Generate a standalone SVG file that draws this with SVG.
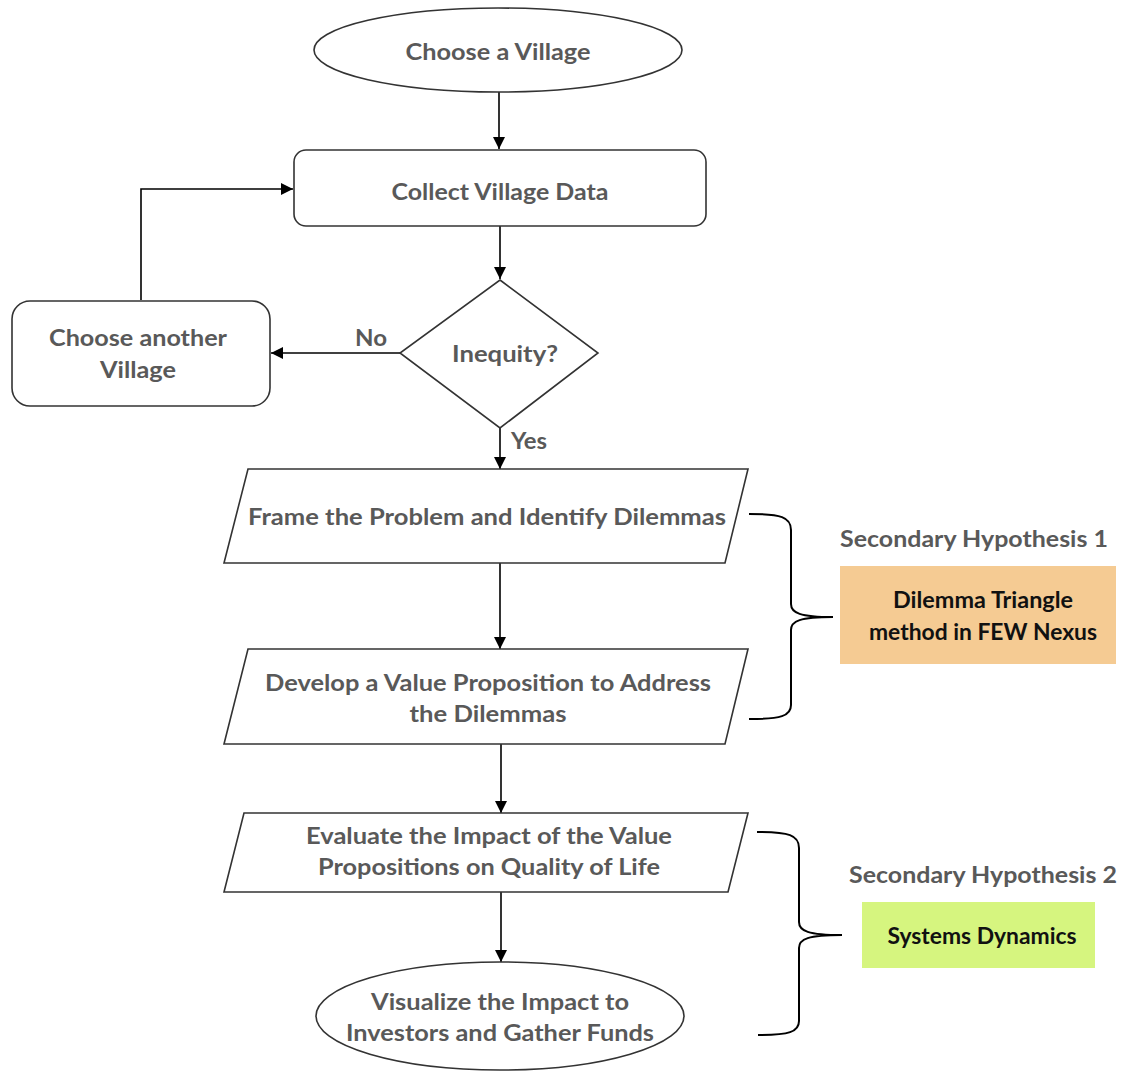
<svg xmlns="http://www.w3.org/2000/svg" width="1128" height="1071" viewBox="0 0 1128 1071">
  <style>
    .shape { fill: #ffffff; stroke: #333333; stroke-width: 1.6; }
    .lbl { font-family: Lato, "Open Sans", "Liberation Sans", sans-serif; font-weight: bold; font-size: 22px; fill: #595959; text-anchor: middle; }
    .dark { fill: #111111; }
    .conn { fill: none; stroke: #000000; stroke-width: 1.6; }
    .brace { fill: none; stroke: #000000; stroke-width: 2; }
  </style>
  <defs>
    <marker id="arrow" markerUnits="userSpaceOnUse" markerWidth="12" markerHeight="12" viewBox="0 0 12 12" refX="12" refY="6" orient="auto">
      <path d="M0,0 L12,6 L0,12 Z" fill="#000000"/>
    </marker>
  </defs>

  <rect width="1128" height="1071" fill="#ffffff"/>

  <!-- connectors -->
  <g id="connectors">
    <line class="conn" x1="499" y1="92" x2="499" y2="149" marker-end="url(#arrow)"/>
    <line class="conn" x1="500" y1="226" x2="500" y2="279" marker-end="url(#arrow)"/>
    <line class="conn" x1="400" y1="353" x2="271" y2="353" marker-end="url(#arrow)"/>
    <polyline class="conn" points="141,300 141,189 293,189" marker-end="url(#arrow)"/>
    <line class="conn" x1="500" y1="428" x2="500" y2="469" marker-end="url(#arrow)"/>
    <line class="conn" x1="500" y1="563" x2="500" y2="649" marker-end="url(#arrow)"/>
    <line class="conn" x1="501" y1="744" x2="501" y2="813" marker-end="url(#arrow)"/>
    <line class="conn" x1="501" y1="892" x2="501" y2="962" marker-end="url(#arrow)"/>
    <text class="lbl" x="371" y="346" textLength="32" lengthAdjust="spacingAndGlyphs">No</text>
    <text class="lbl" x="529" y="449" textLength="36" lengthAdjust="spacingAndGlyphs">Yes</text>
  </g>

  <g id="start">
    <ellipse class="shape" cx="498" cy="50" rx="184" ry="42"/>
    <text class="lbl" x="498" y="60" textLength="185" lengthAdjust="spacingAndGlyphs">Choose a Village</text>
  </g>

  <g id="collect">
    <rect class="shape" x="294" y="150" width="412" height="76" rx="12"/>
    <text class="lbl" x="500" y="200" textLength="217" lengthAdjust="spacingAndGlyphs">Collect Village Data</text>
  </g>

  <g id="inequity">
    <polygon class="shape" points="500,280 598,353 500,428 400,353"/>
    <text class="lbl" x="505" y="362" textLength="106" lengthAdjust="spacingAndGlyphs">Inequity?</text>
  </g>

  <g id="another">
    <rect class="shape" x="12" y="301" width="258" height="105" rx="18"/>
    <text class="lbl" x="138" y="346" textLength="178" lengthAdjust="spacingAndGlyphs">Choose another</text>
    <text class="lbl" x="138" y="378" textLength="76" lengthAdjust="spacingAndGlyphs">Village</text>
  </g>

  <g id="frame">
    <polygon class="shape" points="248,469 748,469 725,563 224,563"/>
    <text class="lbl" x="487" y="525" textLength="478" lengthAdjust="spacingAndGlyphs">Frame the Problem and Identify Dilemmas</text>
  </g>

  <g id="develop">
    <polygon class="shape" points="248,649 748,649 725,744 224,744"/>
    <text class="lbl" x="488" y="691" textLength="446" lengthAdjust="spacingAndGlyphs">Develop a Value Proposition to Address</text>
    <text class="lbl" x="488" y="722" textLength="157" lengthAdjust="spacingAndGlyphs">the Dilemmas</text>
  </g>

  <g id="evaluate">
    <polygon class="shape" points="244,813 748,813 728,892 224,892"/>
    <text class="lbl" x="489" y="844" textLength="366" lengthAdjust="spacingAndGlyphs">Evaluate the Impact of the Value</text>
    <text class="lbl" x="489" y="875" textLength="342" lengthAdjust="spacingAndGlyphs">Propositions on Quality of Life</text>
  </g>

  <g id="visualize">
    <ellipse class="shape" cx="500" cy="1016" rx="184" ry="54"/>
    <text class="lbl" x="500" y="1010" textLength="258" lengthAdjust="spacingAndGlyphs">Visualize the Impact to</text>
    <text class="lbl" x="500" y="1041" textLength="308" lengthAdjust="spacingAndGlyphs">Investors and Gather Funds</text>
  </g>

  <!-- hypothesis brackets -->
  <g id="hypothesis1">
    <path class="brace" d="M749,514 C781,514 791,517 791,530 L791,604 C791,613 800,617 833,617 C800,617 791,621 791,630 L791,705 C791,716 781,719 749,719"/>
    <text class="lbl" x="974" y="547" textLength="268" lengthAdjust="spacingAndGlyphs">Secondary Hypothesis 1</text>
    <rect x="840" y="566" width="276" height="98" fill="#F5CB93"/>
    <text class="lbl dark" x="983" y="608" textLength="180" lengthAdjust="spacingAndGlyphs">Dilemma Triangle</text>
    <text class="lbl dark" x="983" y="640" textLength="228" lengthAdjust="spacingAndGlyphs">method in FEW Nexus</text>
  </g>

  <g id="hypothesis2">
    <path class="brace" d="M757,832 C789,832 799,835 799,848 L799,922 C799,931 808,935 842,935 C808,935 799,939 799,948 L799,1021 C799,1032 789,1035 758,1035"/>
    <text class="lbl" x="983" y="883" textLength="268" lengthAdjust="spacingAndGlyphs">Secondary Hypothesis 2</text>
    <rect x="862" y="902" width="233" height="66" fill="#D6F57F"/>
    <text class="lbl dark" x="982" y="944" textLength="189" lengthAdjust="spacingAndGlyphs">Systems Dynamics</text>
  </g>
</svg>
